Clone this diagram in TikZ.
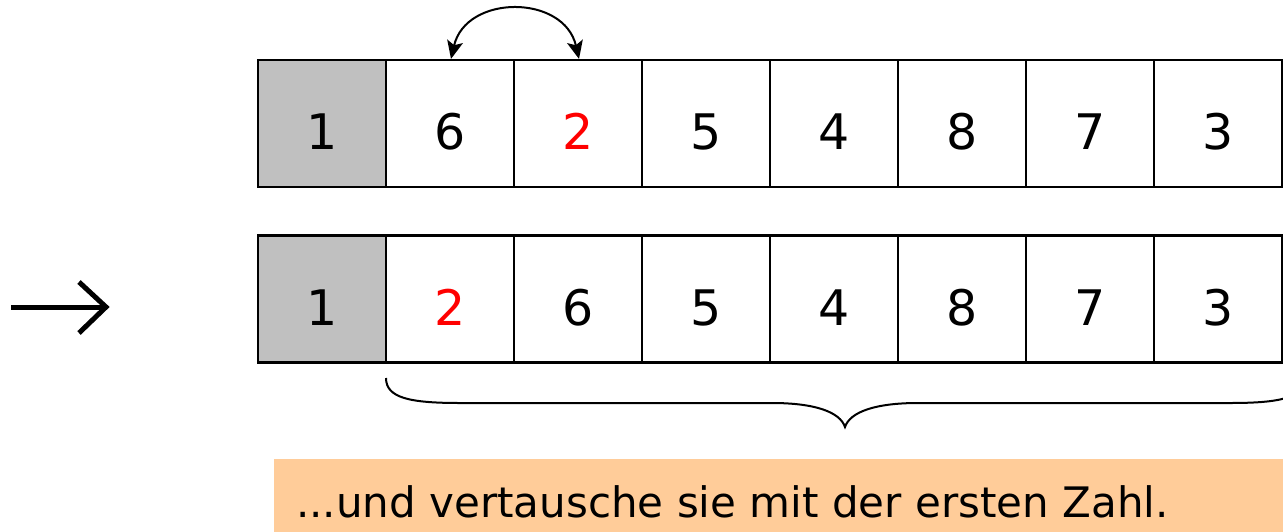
\documentclass[tikz,border=0pt]{standalone}
\usepackage{fontspec}
\setmainfont{DejaVu Sans}
\usetikzlibrary{arrows.meta}
\definecolor{cellgray}{HTML}{C0C0C0}
\definecolor{notebg}{HTML}{FFCC99}
\begin{document}
\begin{tikzpicture}[x=1pt,y=-1pt,
  cell/.style={draw=black, line width=2.2pt, minimum width=128pt, minimum height=127pt, inner sep=0pt, text height=52pt, text depth=0pt, font=\fontsize{49}{56}\selectfont},
  first/.style={cell, fill=cellgray},
  hl/.style={text=red},
  swaparrow/.style={line width=2pt, >={Stealth[length=18pt,width=16pt,inset=4pt]}, <->}]
\useasboundingbox (0,0) rectangle (1283,531);
\clip (0,0) rectangle (1283,531);
% top row
\node[first] (t1) at (322,123.5) {1};
\node[cell] (t2) at (450,123.5) {6};
\node[cell,hl] (t3) at (578,123.5) {2};
\node[cell] (t4) at (706,123.5) {5};
\node[cell] (t5) at (834,123.5) {4};
\node[cell] (t6) at (962,123.5) {8};
\node[cell] (t7) at (1090,123.5) {7};
\node[cell] (t8) at (1218,123.5) {3};
% bottom row
\node[first] (b1) at (322,299) {1};
\node[cell,hl] (b2) at (450,299) {2};
\node[cell] (b3) at (578,299) {6};
\node[cell] (b4) at (706,299) {5};
\node[cell] (b5) at (834,299) {4};
\node[cell] (b6) at (962,299) {8};
\node[cell] (b7) at (1090,299) {7};
\node[cell] (b8) at (1218,299) {3};
% swap arrow
\draw[swaparrow]
  ([xshift=1pt]t2.north) .. controls (466,-6) and (564,-6) .. ([xshift=1pt]t3.north);
% left arrow
\coordinate (la) at (11,307);
\coordinate (lb) at (106,307);
\coordinate (lu) at (79,282);
\coordinate (ld) at (79,333);
\draw[line width=5pt] (la) -- ([xshift=-3pt]lb);
\draw[line width=5pt, line join=miter] (lu) -- (lb) -- (ld);
% brace
\coordinate (bl) at (386,378);
\coordinate (bt) at (845,427);
\coordinate (br) at (1304,378);
\draw[line width=2pt]
  (bl) .. controls (386,398) and (410,403) .. (460,403)
  -- (772,403) .. controls (815,403) and (840,412) .. (bt)
  .. controls (850,412) and (875,403) .. (918,403)
  -- (1230,403) .. controls (1280,403) and (1304,398) .. (br);
% note
\node[fill=notebg, anchor=north west, minimum width=1009pt, minimum height=80pt, inner sep=0pt] (note) at (274,459) {};
\node[anchor=base west, inner sep=0pt, font=\fontsize{42}{48}\selectfont] (notetext) at (296,517) {...und vertausche sie mit der ersten Zahl.};
\end{tikzpicture}
\end{document}
